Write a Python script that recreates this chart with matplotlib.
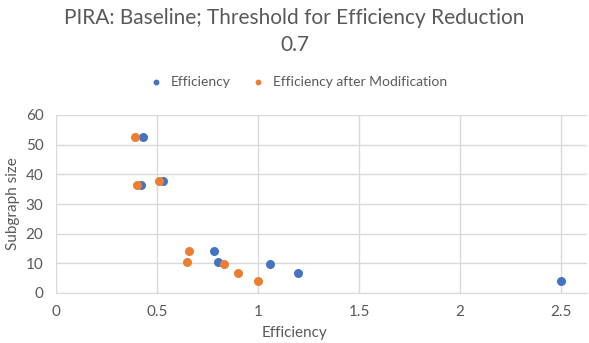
import matplotlib
matplotlib.use("Agg")
import matplotlib.pyplot as plt

# values
eff_before = [0.43, 0.42, 0.53, 0.78, 0.80, 1.06, 1.20, 2.50]
eff_after = [0.39, 0.40, 0.51, 0.66, 0.65, 0.83, 0.90, 1.00]
subgraph_size = [52.6, 36.4, 37.7, 14.2, 10.4, 9.8, 6.7, 4.0]

x_ticks = [0, 0.5, 1, 1.5, 2, 2.5]
y_ticks = [0, 10, 20, 30, 40, 50, 60]

blue = "#4472C4"
orange = "#ED7D31"
text_gray = "#595959"
grid_gray = "#D9D9D9"

plt.rcParams['font.family'] = ['Lato', 'DejaVu Sans']

fig = plt.figure(figsize=(5.89, 3.43), dpi=100)
ax = fig.add_axes([56 / 589, 1 - 293 / 343, (587 - 56) / 589, (293 - 115) / 343])

ax.scatter(eff_before, subgraph_size, s=42, color=blue, label="Efficiency", zorder=3, linewidths=0)
ax.scatter(eff_after, subgraph_size, s=42, color=orange, label="Efficiency after Modification", zorder=3, linewidths=0)

ax.set_xlim(0, (587 - 56) / 202)
ax.set_ylim(0, 60)
ax.set_xticks(x_ticks, [f"{t:g}" for t in x_ticks])
ax.set_yticks(y_ticks)
ax.grid(True, color=grid_gray, linewidth=1)
ax.set_axisbelow(True)
for side in ["top", "right", "left"]:
    ax.spines[side].set_visible(False)
ax.spines["bottom"].set_color(grid_gray)
ax.tick_params(length=0, labelsize=11, colors=text_gray, pad=9)

ax.set_ylabel("Subgraph size", fontsize=11, color=text_gray, labelpad=4)
fig.text(0.5, 1 - 333 / 343, "Efficiency", ha="center", va="center", fontsize=11, color=text_gray)

fig.text(0.5, 1 - 18 / 343, "PIRA: Baseline; Threshold for Efficiency Reduction", ha="center", va="center",
         fontsize=15, color=text_gray)
fig.text(0.5, 1 - 45 / 343, "0.7", ha="center", va="center", fontsize=15, color=text_gray)

fig.legend(loc="center", bbox_to_anchor=(0.5, 1 - 82 / 343), ncol=2, frameon=False, fontsize=10,
           labelcolor=text_gray, handletextpad=0.1, columnspacing=0.9, markerscale=0.65)

fig.savefig("out.png", dpi=100)
